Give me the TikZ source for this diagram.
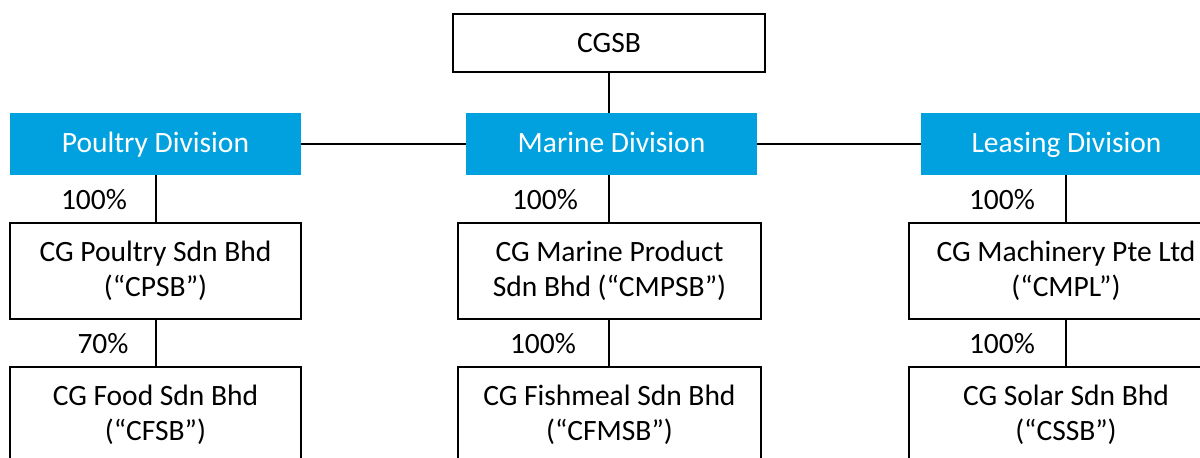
\documentclass[tikz,border=0pt]{standalone}
\usepackage{fontspec}
\setmainfont{Carlito}
\definecolor{divblue}{RGB}{0,161,222}
\begin{document}
\begin{tikzpicture}[x=1pt,y=-1pt,
  every node/.style={font=\fontsize{29.5}{35}\selectfont},
  company/.style={draw=black,line width=2pt,fill=white,inner sep=0pt,align=center,minimum height=96pt},
  division/.style={fill=divblue,text=white,inner sep=0pt,minimum width=291pt,minimum height=62pt,text height=22pt,text depth=6pt},
  pct/.style={inner sep=0pt,text=black,text height=20pt,text depth=0pt},
  link/.style={draw=black,line width=2pt}]
\clip (0,0) rectangle (1200,458);
\fill[white] (0,0) rectangle (1200,458);
\node[company,minimum width=312pt,minimum height=58pt] (cgsb) at (609,43) {CGSB};
\node[division] (poultry) at (155.5,144) {Poultry Division};
\node[division] (marine) at (611.5,144) {Marine Division};
\node[division] (leasing) at (1066.5,144) {Leasing Division};
\node[company,minimum width=291pt] (cpsb) at (155.5,271) {CG Poultry Sdn Bhd\\(“CPSB”)};
\node[company,minimum width=303pt] (cmpsb) at (609.5,271) {CG Marine Product\\Sdn Bhd (“CMPSB”)};
\node[company,minimum width=314pt] (cmpl) at (1066,271) {CG Machinery Pte Ltd\\(“CMPL”)};
\node[company,minimum width=291pt] (cfsb) at (155.5,415) {CG Food Sdn Bhd\\(“CFSB”)};
\node[company,minimum width=303pt] (cfmsb) at (609.5,415) {CG Fishmeal Sdn Bhd\\(“CFMSB”)};
\node[company,minimum width=314pt] (cssb) at (1066,415) {CG Solar Sdn Bhd\\(“CSSB”)};
\draw[link] (cgsb.south) -- (cgsb.south |- marine.north);
\draw[link] (poultry.east) -- (marine.west);
\draw[link] (marine.east) -- (leasing.west);
\draw[link] (poultry.south) -- (cpsb.north);
\draw[link] (cpsb.south) -- (cfsb.north);
\draw[link] (cgsb.south |- marine.south) -- (cgsb.south |- cmpsb.north);
\draw[link] (cgsb.south |- cmpsb.south) -- (cgsb.south |- cfmsb.north);
\draw[link] (cmpl.north |- leasing.south) -- (cmpl.north);
\draw[link] (cmpl.south) -- (cssb.north);
\node[pct] (p1) at (94,199) {100\%};
\node[pct] (p2) at (545,199) {100\%};
\node[pct] (p3) at (1002,199) {100\%};
\node[pct] (p4) at (103,343) {70\%};
\node[pct] (p5) at (543,343) {100\%};
\node[pct] (p6) at (1002,343) {100\%};
\end{tikzpicture}
\end{document}
